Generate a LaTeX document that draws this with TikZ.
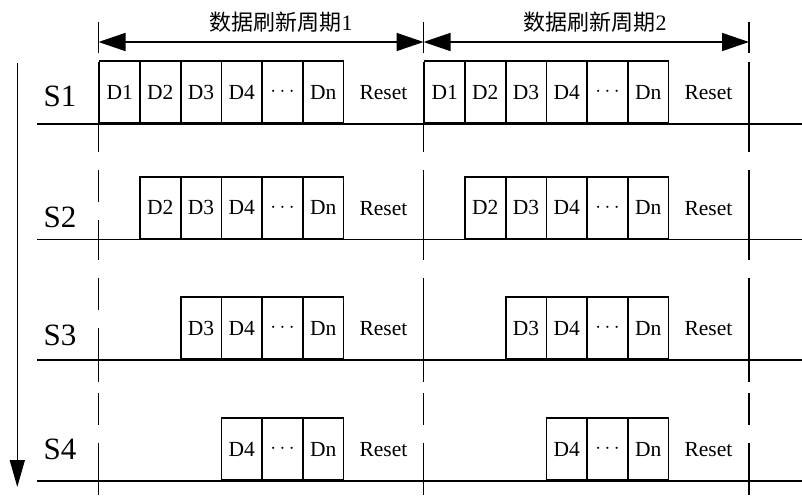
\documentclass[tikz,border=0pt]{standalone}
\usepackage{fontspec}
\setmainfont{Liberation Serif}
\newfontfamily\cjk{Noto Sans CJK SC}
\usetikzlibrary{arrows.meta}
\begin{document}
\begin{tikzpicture}[line cap=butt,line join=miter,x=1pt,y=-1pt,line width=1.6pt,
  cell/.style={draw,inner sep=0pt,minimum width=40.7pt,minimum height=62pt,anchor=south west,font=\fontsize{21.5}{24}\selectfont},
  txt/.style={inner sep=0pt,font=\fontsize{21.5}{24}\selectfont},
  sig/.style={inner sep=0pt,font=\fontsize{31}{34}\selectfont},
  ttl/.style={inner sep=0pt,font=\fontsize{22}{24}\selectfont},
  period/.style={{Triangle[length=27pt,width=18pt]}-{Triangle[length=27pt,width=18pt]}}]
\useasboundingbox (0,0) rectangle (802,495);
% time axis
\coordinate (t0) at (17.3,63);
\coordinate (t1) at (17.3,487);
\draw[-{Triangle[length=27pt,width=15pt]}] (t0) -- (t1);
% refresh periods
\coordinate (p0) at (98.5,42);
\coordinate (p1) at (423.5,42);
\coordinate (p2) at (749,42);
\draw[period] (p0) -- (p1);
\draw[period] (p1) -- (p2);
\node[ttl] (ttl1) at (281,22) {{\cjk 数据刷新周期}1};
\node[ttl] (ttl2) at (595,22) {{\cjk 数据刷新周期}2};
% period borders
\foreach \a/\b in {22/53,62/152,170/202,220/260,278/310,328/382,393/425,443/495}
  \draw (98.5,\a) -- (98.5,\b);
\foreach \x in {423.5,749}
  \foreach \a/\b in {22/53,62/152,170/260,278/382,393/425,443/495}
    \draw (\x,\a) -- (\x,\b);
% signal lines
\foreach \r/\y/\m in {1/124/96,2/239.5/217,3/360/335,4/481/449}{
  \draw (37,\y) -- (802,\y);
  \node[sig] (s\r) at (60,\m) {S\r};
}
% data cells
\foreach \p/\x in {1/98.5,2/423.5}
  \foreach \r/\y in {1/124,2/239.5,3/360,4/481}{
    \foreach \j/\lbl in {1/D1,2/D2,3/D3,4/D4,5/$\cdots$,6/Dn}{
      \ifnum\j<\r\else
        \node[cell] (c\p s\r d\j) at (\x+\j*40.7-40.7,\y) {\lbl};
      \fi
    }
    \node[txt] (c\p s\r rst) at (\x+7*40.7,\y-31) {Reset};
  }
\end{tikzpicture}
\end{document}
